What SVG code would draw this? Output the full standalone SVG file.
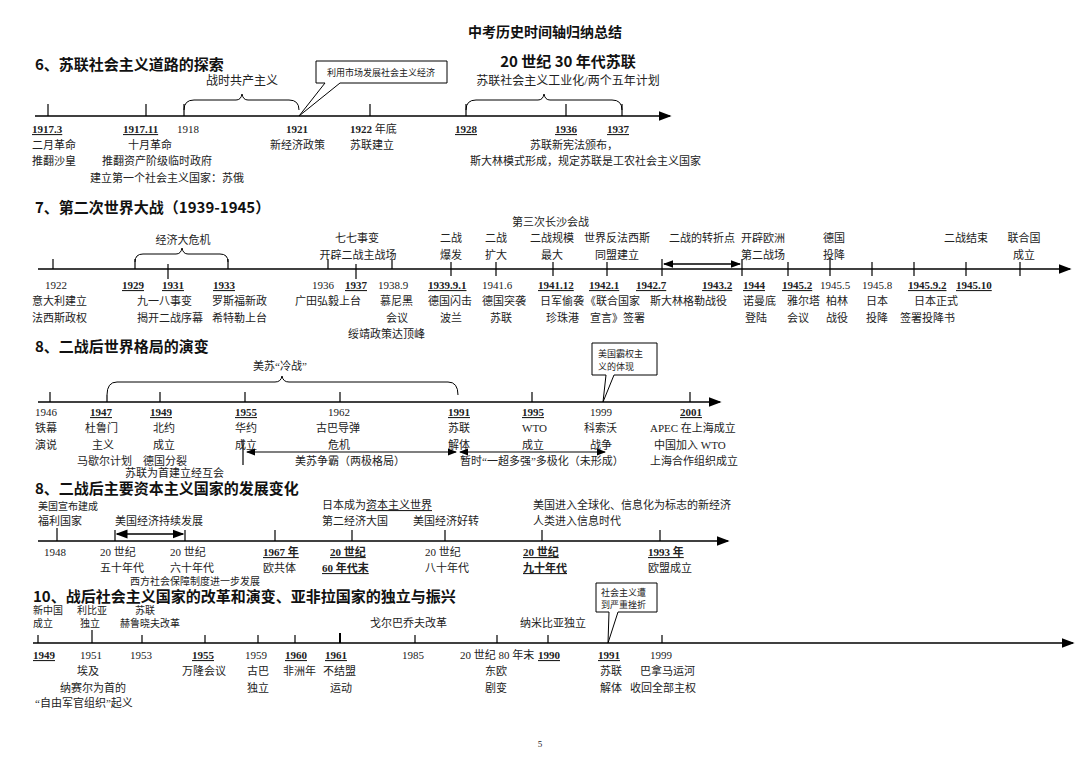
<svg xmlns="http://www.w3.org/2000/svg" width="1080" height="763" viewBox="0 0 1080 763">
<defs>
<marker id="ar" markerWidth="8" markerHeight="8" refX="7" refY="4" orient="auto"><path d="M0,1 L8,4 L0,7 z" fill="#000"/></marker>
<marker id="as" markerWidth="8" markerHeight="8" refX="1" refY="4" orient="auto"><path d="M8,1 L0,4 L8,7 z" fill="#000"/></marker>
</defs>
<style>
text{font-family:"Liberation Serif","Noto Sans CJK SC",serif;font-size:11px;fill:#222}
.h{font-family:"Noto Sans CJK SC",sans-serif;font-size:15px;font-weight:bold;fill:#111}
.b{font-weight:bold;text-decoration:underline}
.ax{stroke:#000;stroke-width:1.6;fill:none}
.tk{stroke:#000;stroke-width:1.2}
.br{stroke:#000;stroke-width:1;fill:none}
.bx{stroke:#000;stroke-width:1;fill:#fff}
.sm{font-size:9px}
.s10{font-size:10px}
</style>
<rect width="1080" height="763" fill="#fff"/>
<text x="545" y="37" text-anchor="middle" class="h" style="font-size:14px">中考历史时间轴归纳总结</text>

<g id="sec6">
<text x="35" y="70" class="h">6、苏联社会主义道路的探索</text>
<text x="568" y="67" text-anchor="middle" class="h">20 世纪 30 年代苏联</text>
<text x="568" y="85" text-anchor="middle" style="font-size:12px">苏联社会主义工业化/两个五年计划</text>
<text x="242" y="85" text-anchor="middle" style="font-size:12px">战时共产主义</text>
<path class="br" d="M184,110 Q184,100 194,100 L236,100 Q241,100 242,94 Q243,100 248,100 L289,100 Q299,100 299,110"/>
<path class="br" d="M466,110 Q466,100 476,100 L538,100 Q543,100 544,94 Q545,100 550,100 L612,100 Q622,100 622,110"/>
<path class="bx" d="M316,61 L447,61 L447,83 L340,83 L299,116 L325,83 L316,83 Z"/>
<text x="381" y="76" text-anchor="middle" class="sm">利用市场发展社会主义经济</text>
<line class="ax" x1="35" y1="116" x2="670" y2="116" marker-end="url(#ar)"/>
<g class="tk"><line x1="48" y1="104" x2="48" y2="116"/><line x1="146" y1="104" x2="146" y2="116"/><line x1="184" y1="104" x2="184" y2="116"/><line x1="370" y1="104" x2="370" y2="116"/><line x1="466" y1="104" x2="466" y2="116"/><line x1="566" y1="104" x2="566" y2="116"/><line x1="622" y1="104" x2="622" y2="116"/></g>
<text x="32" y="133" class="b">1917.3</text><text x="32" y="149">二月革命</text><text x="32" y="165">推翻沙皇</text>
<text x="123" y="133" class="b">1917.11</text><text x="128" y="149">十月革命</text><text x="102" y="165">推翻资产阶级临时政府</text><text x="90" y="182">建立第一个社会主义国家：苏俄</text>
<text x="177" y="133">1918</text>
<text x="286" y="133" style="font-weight:bold">1921</text><text x="270" y="149">新经济政策</text>
<text x="350" y="133"><tspan style="font-weight:bold">1922</tspan> 年底</text><text x="350" y="149">苏联建立</text>
<text x="455" y="133" class="b">1928</text><text x="555" y="133" class="b">1936</text><text x="607" y="133" class="b">1937</text>
<text x="530" y="149">苏联新宪法颁布，</text><text x="470" y="165">斯大林模式形成，规定苏联是工农社会主义国家</text>
</g>

<g id="sec7">
<text x="35" y="213" class="h">7、第二次世界大战（1939-1945）</text>
<text x="183" y="244" text-anchor="middle">经济大危机</text>
<path class="br" d="M135,262 Q135,254 143,254 L176,254 Q181,254 182,248 Q183,254 188,254 L220,254 Q228,254 228,262"/>
<text x="357" y="242" text-anchor="middle">七七事变</text><text x="358" y="259" text-anchor="middle">开辟二战主战场</text>
<text x="451" y="242" text-anchor="middle">二战</text><text x="451" y="259" text-anchor="middle">爆发</text>
<text x="496" y="242" text-anchor="middle">二战</text><text x="496" y="259" text-anchor="middle">扩大</text>
<text x="512" y="226">第三次长沙会战</text>
<text x="552" y="242" text-anchor="middle">二战规模</text><text x="552" y="259" text-anchor="middle">最大</text>
<text x="617" y="242" text-anchor="middle">世界反法西斯</text><text x="617" y="259" text-anchor="middle">同盟建立</text>
<text x="702" y="242" text-anchor="middle">二战的转折点</text>
<text x="763" y="242" text-anchor="middle">开辟欧洲</text><text x="763" y="259" text-anchor="middle">第二战场</text>
<text x="834" y="242" text-anchor="middle">德国</text><text x="834" y="259" text-anchor="middle">投降</text>
<text x="966" y="242" text-anchor="middle">二战结束</text>
<text x="1024" y="242" text-anchor="middle">联合国</text><text x="1024" y="259" text-anchor="middle">成立</text>
<line class="ax" x1="38" y1="269" x2="1070" y2="269" marker-end="url(#ar)"/>
<line stroke="#000" stroke-width="1.3" x1="664" y1="264" x2="740" y2="264" marker-start="url(#as)" marker-end="url(#ar)"/>
<g class="tk"><line x1="53" y1="259" x2="53" y2="269"/><line x1="135" y1="259" x2="135" y2="269"/><line x1="168" y1="264" x2="168" y2="279"/><line x1="228" y1="259" x2="228" y2="269"/><line x1="328" y1="259" x2="328" y2="269"/><line x1="356" y1="264" x2="356" y2="279"/><line x1="392" y1="259" x2="392" y2="269"/><line x1="451" y1="262" x2="451" y2="276"/><line x1="496" y1="262" x2="496" y2="276"/><line x1="553" y1="262" x2="553" y2="276"/><line x1="607" y1="262" x2="607" y2="276"/><line x1="662" y1="259" x2="662" y2="276"/><line x1="742" y1="259" x2="742" y2="276"/><line x1="788" y1="262" x2="788" y2="276"/><line x1="830" y1="259" x2="830" y2="276"/><line x1="872" y1="262" x2="872" y2="276"/><line x1="914" y1="262" x2="914" y2="276"/><line x1="966" y1="262" x2="966" y2="276"/><line x1="1020" y1="262" x2="1020" y2="276"/></g>
<text x="45" y="289">1922</text><text x="32" y="305">意大利建立</text><text x="32" y="322">法西斯政权</text>
<text x="122" y="289" class="b">1929</text><text x="162" y="289" class="b">1931</text><text x="137" y="305">九一八事变</text><text x="137" y="322">揭开二战序幕</text>
<text x="213" y="289" class="b">1933</text><text x="212" y="305">罗斯福新政</text><text x="212" y="322">希特勒上台</text>
<text x="312" y="289">1936</text><text x="295" y="305">广田弘毅上台</text>
<text x="345" y="289" class="b">1937</text><text x="378" y="289">1938.9</text><text x="380" y="305">慕尼黑</text><text x="386" y="322">会议</text><text x="348" y="338">绥靖政策达顶峰</text>
<text x="428" y="289" class="b">1939.9.1</text><text x="428" y="305">德国闪击</text><text x="440" y="322">波兰</text>
<text x="482" y="289">1941.6</text><text x="482" y="305">德国突袭</text><text x="490" y="322">苏联</text>
<text x="538" y="289" class="b">1941.12</text><text x="540" y="305">日军偷袭</text><text x="546" y="322">珍珠港</text>
<text x="589" y="289" class="b">1942.1</text><text x="585" y="305">《联合国家</text><text x="590" y="322">宣言》签署</text>
<text x="636" y="289" class="b">1942.7</text><text x="702" y="289" class="b">1943.2</text><text x="650" y="305">斯大林格勒战役</text>
<text x="743" y="289" class="b">1944</text><text x="743" y="305">诺曼底</text><text x="745" y="322">登陆</text>
<text x="782" y="289" class="b">1945.2</text><text x="787" y="305">雅尔塔</text><text x="787" y="322">会议</text>
<text x="820" y="289">1945.5</text><text x="826" y="305">柏林</text><text x="826" y="322">战役</text>
<text x="862" y="289">1945.8</text><text x="866" y="305">日本</text><text x="866" y="322">投降</text>
<text x="908" y="289" class="b">1945.9.2</text><text x="914" y="305">日本正式</text><text x="900" y="322">签署投降书</text>
<text x="956" y="289" class="b">1945.10</text>
</g>

<g id="sec8a">
<text x="35" y="352" class="h">8、二战后世界格局的演变</text>
<text x="280" y="370" text-anchor="middle">美苏“冷战”</text>
<path class="br" d="M107,395 Q107,382 117,382 L275,382 Q281,382 282,376 Q283,382 289,382 L448,382 Q458,382 458,395"/>
<path class="bx" d="M592,343 L657,343 L657,375 L614,375 L603,402 L606,375 L592,375 Z"/>
<text x="598" y="357" class="sm">美国霸权主</text><text x="598" y="370" class="sm">义的体现</text>
<line class="ax" x1="38" y1="402" x2="720" y2="402" marker-end="url(#ar)"/>
<g class="tk"><line x1="50" y1="392" x2="50" y2="402"/><line x1="107" y1="395" x2="107" y2="402"/><line x1="160" y1="392" x2="160" y2="402"/><line x1="245" y1="392" x2="245" y2="402"/><line x1="340" y1="392" x2="340" y2="402"/><line x1="532" y1="392" x2="532" y2="402"/><line x1="690" y1="392" x2="690" y2="402"/><line x1="243" y1="440" x2="243" y2="465"/></g>
<text x="35" y="416">1946</text><text x="35" y="432">铁幕</text><text x="35" y="449">演说</text>
<text x="90" y="416" class="b">1947</text><text x="85" y="432">杜鲁门</text><text x="92" y="449">主义</text><text x="77" y="465">马歇尔计划</text>
<text x="150" y="416" class="b">1949</text><text x="153" y="432">北约</text><text x="153" y="449">成立</text><text x="143" y="465">德国分裂</text><text x="125" y="477">苏联为首建立经互会</text>
<text x="235" y="416" class="b">1955</text><text x="235" y="432">华约</text><text x="235" y="449">成立</text>
<text x="328" y="416">1962</text><text x="316" y="432">古巴导弹</text><text x="328" y="449">危机</text>
<text x="448" y="416" class="b">1991</text><text x="448" y="432">苏联</text><text x="448" y="449">解体</text>
<text x="522" y="416" class="b">1995</text><text x="522" y="432">WTO</text><text x="522" y="449">成立</text>
<text x="590" y="416">1999</text><text x="584" y="432">科索沃</text><text x="590" y="449">战争</text>
<text x="680" y="416" class="b">2001</text><text x="650" y="432">APEC 在上海成立</text><text x="654" y="449">中国加入 WTO</text><text x="650" y="465">上海合作组织成立</text>
<line stroke="#000" stroke-width="1.2" x1="247" y1="452" x2="456" y2="452" marker-start="url(#as)" marker-end="url(#ar)"/>
<line stroke="#000" stroke-width="1.2" x1="460" y1="452" x2="605" y2="452" marker-start="url(#as)" marker-end="url(#ar)"/>
<text x="295" y="465">美苏争霸（两极格局）</text><text x="460" y="465">暂时“一超多强”多极化（未形成）</text>
</g>

<g id="sec8b">
<text x="35" y="494" class="h">8、二战后主要资本主义国家的发展变化</text>
<text x="38" y="510" class="s10">美国宣布建成</text><text x="38" y="525">福利国家</text>
<text x="115" y="525">美国经济持续发展</text>
<line stroke="#000" stroke-width="1.5" x1="117" y1="534" x2="183" y2="534" marker-start="url(#as)" marker-end="url(#ar)"/>
<text x="322" y="509">日本成为<tspan text-decoration="underline">资本主义世界</tspan></text><text x="322" y="525">第二经济大国</text>
<text x="413" y="525">美国经济好转</text>
<text x="533" y="509">美国进入全球化、信息化为标志的新经济</text><text x="533" y="525">人类进入信息时代</text>
<line class="ax" x1="38" y1="541" x2="728" y2="541" marker-end="url(#ar)"/>
<g class="tk"><line x1="57" y1="528" x2="57" y2="541"/><line x1="115" y1="530" x2="115" y2="541"/><line x1="185" y1="530" x2="185" y2="541"/><line x1="275" y1="530" x2="275" y2="541"/><line x1="352" y1="530" x2="352" y2="541"/><line x1="445" y1="530" x2="445" y2="541"/><line x1="542" y1="530" x2="542" y2="541"/><line x1="660" y1="530" x2="660" y2="541"/></g>
<text x="44" y="556">1948</text>
<text x="100" y="556">20 世纪</text><text x="100" y="572">五十年代</text>
<text x="170" y="556">20 世纪</text><text x="170" y="572">六十年代</text>
<text x="263" y="556" class="b">1967 年</text><text x="263" y="572">欧共体</text>
<text x="330" y="556" class="b">20 世纪</text><text x="322" y="572" class="b">60 年代末</text>
<text x="425" y="556">20 世纪</text><text x="425" y="572">八十年代</text>
<text x="523" y="556" class="b">20 世纪</text><text x="523" y="572" class="b">九十年代</text>
<text x="648" y="556" class="b">1993 年</text><text x="648" y="572">欧盟成立</text>
<text x="130" y="585" class="s10">西方社会保障制度进一步发展</text>
</g>

<g id="sec10">
<text x="33" y="602" class="h">10、战后社会主义国家的改革和演变、亚非拉国家的独立与振兴</text>
<text x="33" y="614" class="s10">新中国</text><text x="33" y="627" class="s10">成立</text>
<text x="77" y="614" class="s10">利比亚</text><text x="80" y="627" class="s10">独立</text>
<text x="135" y="614" class="s10">苏联</text><text x="120" y="627" class="s10">赫鲁晓夫改革</text>
<text x="370" y="627">戈尔巴乔夫改革</text><text x="520" y="627">纳米比亚独立</text>
<path class="bx" d="M596,583 L657,583 L657,612 L618,612 L608,643 L609,612 L596,612 Z"/>
<text x="601" y="596" class="sm">社会主义遭</text><text x="601" y="608" class="sm">到严重挫折</text>
<line class="ax" x1="33" y1="643" x2="1073" y2="643" marker-end="url(#ar)"/>
<g class="tk"><line x1="38" y1="635" x2="38" y2="643"/><line x1="92" y1="630" x2="92" y2="643"/><line x1="142" y1="635" x2="142" y2="643"/><line x1="205" y1="635" x2="205" y2="643"/><line x1="258" y1="635" x2="258" y2="643"/><line x1="295" y1="635" x2="295" y2="643"/><line x1="340" y1="633" x2="340" y2="643" stroke-width="2"/><line x1="415" y1="635" x2="415" y2="643"/><line x1="497" y1="635" x2="497" y2="643"/><line x1="548" y1="635" x2="548" y2="643"/><line x1="662" y1="635" x2="662" y2="643"/></g>
<text x="33" y="659" class="b">1949</text>
<text x="80" y="659">1951</text><text x="77" y="675">埃及</text><text x="60" y="692">纳赛尔为首的</text><text x="35" y="707">“自由军官组织”起义</text>
<text x="130" y="659">1953</text>
<text x="192" y="659" class="b">1955</text><text x="182" y="675">万隆会议</text>
<text x="245" y="659">1959</text><text x="247" y="675">古巴</text><text x="247" y="692">独立</text>
<text x="285" y="659" class="b">1960</text><text x="283" y="675">非洲年</text>
<text x="325" y="659" class="b">1961</text><text x="323" y="675">不结盟</text><text x="330" y="692">运动</text>
<text x="402" y="659">1985</text>
<text x="460" y="659">20 世纪 80 年末</text><text x="485" y="675">东欧</text><text x="485" y="692">剧变</text>
<text x="538" y="659" class="b">1990</text>
<text x="598" y="659" class="b">1991</text><text x="600" y="675">苏联</text><text x="600" y="692">解体</text>
<text x="650" y="659">1999</text><text x="640" y="675">巴拿马运河</text><text x="630" y="692">收回全部主权</text>
</g>
<text x="540" y="747" class="sm" text-anchor="middle">5</text>
</svg>
